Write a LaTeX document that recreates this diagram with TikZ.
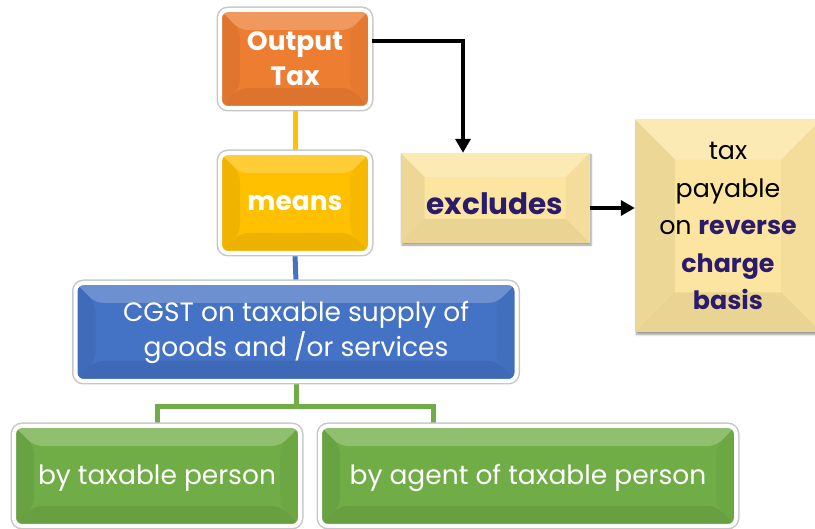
\documentclass[tikz,border=0pt]{standalone}
\usepackage{fontspec}
\setmainfont{Poppins}
\usetikzlibrary{arrows.meta,positioning,calc,backgrounds,shadows.blur}
\definecolor{orng}{HTML}{ED7D31}
\definecolor{gold}{HTML}{FFC000}
\definecolor{cblue}{HTML}{4472C4}
\definecolor{cgreen}{HTML}{70AD47}
\definecolor{pale}{HTML}{FCE5A0}
\definecolor{navy}{HTML}{2B1B6B}
\newcommand{\keyw}[1]{\textcolor{navy}{\bfseries #1}}

\tikzset{
  bevel/.style={path picture={
    \path (path picture bounding box.north west) coordinate (bnw)
          (path picture bounding box.south east) coordinate (bse);
    \fill[white,opacity=.22] (bnw) -- (bnw-|bse) -- ++(-#1,-#1) -- ($(bnw)+(#1,-#1)$) -- cycle;
    \fill[black,opacity=.06] (bnw) -- ($(bnw)+(#1,-#1)$) -- ($(bnw|-bse)+(#1,#1)$) -- (bnw|-bse) -- cycle;
    \fill[black,opacity=.03] (bse) -- ($(bse)+(-#1,#1)$) -- ($(bnw-|bse)+(-#1,-#1)$) -- (bnw-|bse) -- cycle;
    \fill[black,opacity=.07] (bse) -- ($(bse)+(-#1,#1)$) -- ($(bnw|-bse)+(#1,#1)$) -- (bnw|-bse) -- cycle;
  }},
  bevel/.default=20pt
}

\begin{document}
\begin{tikzpicture}[x=1pt, y=-1pt,
  framebox/.style={rectangle, rounded corners=8pt, draw=white, line width=4pt,
    preaction={draw=black!22, line width=7pt}, bevel, align=center, inner sep=0pt,
    text=white, font=\fontsize{26.5}{35}\selectfont},
  palebox/.style={rectangle, fill=pale, bevel=24pt, align=center, inner sep=0pt,
    blur shadow={shadow blur steps=5, shadow xshift=1.5pt, shadow yshift=-2pt}},
  arr/.style={-{Triangle[length=14pt, width=15pt]}, line width=4.5pt, black},
  link/.style={line width=5pt}
]
  \useasboundingbox (0,0) rectangle (815,529);

  \node[framebox, fill=orng, minimum width=150pt, minimum height=98pt, font=\fontsize{26.5}{35}\selectfont\bfseries]
    (outtax) at (295,59) {Output\\Tax};
  \node[framebox, fill=gold, minimum width=150pt, minimum height=100pt, font=\fontsize{26.5}{35}\selectfont\bfseries]
    (means) at (295,203) {means};
  \node[framebox, fill=cblue, minimum width=441pt, minimum height=98pt]
    (cgst) at (296,332) {CGST on taxable supply of\\goods and /or services};
  \node[framebox, fill=cgreen, minimum width=286pt, minimum height=100pt, text height=18pt, text depth=0pt]
    (byperson) at (157,476) {by taxable person};
  \node[framebox, fill=cgreen, minimum width=416pt, minimum height=100pt, text height=18pt, text depth=0pt]
    (byagent) at (528,476) {by agent of taxable person};

  \node[palebox, minimum width=189pt, minimum height=90pt, text height=34pt, text depth=0pt, font=\fontsize{29.5}{35}\selectfont]
    (excl) at (495,198) {\keyw{excludes}};
  \node[palebox, bevel=40pt, minimum width=186pt, minimum height=213pt, font=\fontsize{25.3}{37.5}\selectfont]
    (rcm) at (728,226) {tax\\payable\\on \keyw{reverse}\\\keyw{charge}\\\keyw{basis}};

  % connectors
  \begin{scope}[on background layer]
    \draw[link, gold] (outtax.south) -- (means.north);
    \draw[link, cblue] (means.south) -- (cgst.north);
    \draw[link, cgreen] (cgst.south) -- ++(0,24) -| (byperson.north);
    \draw[link, cgreen] (cgst.south) ++(0,24) -| ([xshift=-95pt]byagent.north);
  \end{scope}
  \draw[arr] ([yshift=18pt]outtax.east) -| ([xshift=-32pt]excl.north);
  \draw[arr] ([yshift=-10pt]excl.east) -- ([yshift=-10pt]excl.east -| rcm.west);
\end{tikzpicture}
\end{document}
